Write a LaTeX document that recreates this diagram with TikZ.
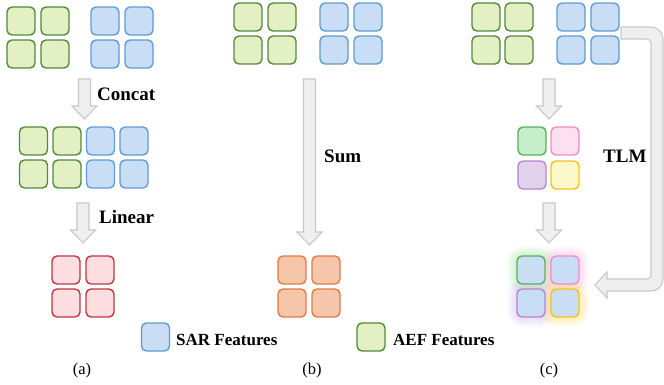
\documentclass[tikz,border=0pt]{standalone}
\usepackage{fontspec}
\setmainfont{Liberation Serif}
\definecolor{gfill}{HTML}{E2F0C4}\definecolor{gdraw}{HTML}{538A3A}
\definecolor{bfill}{HTML}{C9DDF5}\definecolor{bdraw}{HTML}{5F9BD6}
\definecolor{rfill}{HTML}{FDDEE1}\definecolor{rdraw}{HTML}{C23440}
\definecolor{ofill}{HTML}{F6C6AA}\definecolor{odraw}{HTML}{E17B45}
\definecolor{tgfill}{HTML}{C6EEC9}\definecolor{tgdraw}{HTML}{5DAE5D}
\definecolor{tpfill}{HTML}{FDE0F0}\definecolor{tpdraw}{HTML}{F08DC6}
\definecolor{tvfill}{HTML}{E3D2EE}\definecolor{tvdraw}{HTML}{B585D0}
\definecolor{tyfill}{HTML}{FCF8C9}\definecolor{tydraw}{HTML}{F7C21C}
\definecolor{afill}{HTML}{EFEFEF}\definecolor{adraw}{HTML}{C8C8C8}
\definecolor{glg}{HTML}{7FE07F}\definecolor{glp}{HTML}{FF9ED8}
\definecolor{glv}{HTML}{C9A0E6}\definecolor{gly}{HTML}{FFD23A}
\tikzset{
  sq/.style={draw, rounded corners=5pt, minimum size=28pt, inner sep=0pt, line width=1.4pt},
  gsq/.style={sq, fill=gfill, draw=gdraw},
  bsq/.style={sq, fill=bfill, draw=bdraw},
  rsq/.style={sq, fill=rfill, draw=rdraw},
  osq/.style={sq, fill=ofill, draw=odraw},
  arr/.style={fill=afill, draw=adraw, line width=1.1pt, line join=miter},
  lab/.style={font=\bfseries\fontsize{19}{19}\selectfont, anchor=base west, inner sep=0pt},
  leg/.style={font=\bfseries\fontsize{17}{17}\selectfont, anchor=base west, inner sep=0pt},
  captext/.style={font=\fontsize{16.5}{16.5}\selectfont, anchor=base, inner sep=0pt}
}
\newcommand{\downarr}[4]{% center x, top, head start, tip
  \draw[arr] ({#1-6},#2) -- ({#1+6},#2) -- ({#1+6},#3) -- ({#1+12.5},#3) -- (#1,#4) -- ({#1-12.5},#3) -- ({#1-6},#3) -- cycle;}
\newcommand{\glow}[3]{% x, y, color
  \foreach \k in {1,...,10}{
    \fill[#3, opacity=0.045, rounded corners={6pt+\k pt}] ({#1-14-\k},{#2-14-\k}) rectangle ({#1+14+\k},{#2+14+\k});}}
\begin{document}
\begin{tikzpicture}[x=1pt,y=-1pt]
\useasboundingbox (0,0) rectangle (664,384);
% (a)
\node[gsq] (a11) at (21,21) {}; \node[gsq] (a12) at (55,21) {};
\node[gsq] (a13) at (21,54) {}; \node[gsq] (a14) at (55,54) {};
\node[bsq] (a21) at (105,21) {}; \node[bsq] (a22) at (139,21) {};
\node[bsq] (a23) at (105,54) {}; \node[bsq] (a24) at (139,54) {};
\downarr{84.5}{79}{106}{119}
\node[lab] (tconcat) at (97,100) {Concat};
\node[gsq] (c1) at (33.5,141) {}; \node[gsq] (c2) at (67,141) {};
\node[bsq] (c3) at (100.5,141) {}; \node[bsq] (c4) at (134,141) {};
\node[gsq] (c5) at (33.5,174) {}; \node[gsq] (c6) at (67,174) {};
\node[bsq] (c7) at (100.5,174) {}; \node[bsq] (c8) at (134,174) {};
\downarr{83}{203}{230}{243}
\node[lab] (tlinear) at (99,223) {Linear};
\node[rsq] (r1) at (66,270) {}; \node[rsq] (r2) at (100,270) {};
\node[rsq] (r3) at (66,303) {}; \node[rsq] (r4) at (100,303) {};
\node[captext] (capa) at (82,374) {(a)};
% (b)
\node[gsq] (b11) at (248,17) {}; \node[gsq] (b12) at (282,17) {};
\node[gsq] (b13) at (248,50) {}; \node[gsq] (b14) at (282,50) {};
\node[bsq] (b21) at (334,17) {}; \node[bsq] (b22) at (368,17) {};
\node[bsq] (b23) at (334,50) {}; \node[bsq] (b24) at (368,50) {};
\downarr{309.5}{79}{232}{245}
\node[lab] (tsum) at (324,162) {Sum};
\node[osq] (o1) at (292,270) {}; \node[osq] (o2) at (326,270) {};
\node[osq] (o3) at (292,303) {}; \node[osq] (o4) at (326,303) {};
\node[captext] (capb) at (312,374) {(b)};
% (c)
\node[gsq] (d11) at (486,17) {}; \node[gsq] (d12) at (519,17) {};
\node[gsq] (d13) at (486,50) {}; \node[gsq] (d14) at (519,50) {};
\node[bsq] (d21) at (571,17) {}; \node[bsq] (d22) at (605,17) {};
\node[bsq] (d23) at (571,50) {}; \node[bsq] (d24) at (605,50) {};
\downarr{549}{79}{106}{119}
\node[sq, fill=tgfill, draw=tgdraw] (t1) at (532,141) {};
\node[sq, fill=tpfill, draw=tpdraw] (t2) at (565,141) {};
\node[sq, fill=tvfill, draw=tvdraw] (t3) at (532,175) {};
\node[sq, fill=tyfill, draw=tydraw] (t4) at (565,175) {};
\node[lab] (ttlm) at (603,162) {TLM};
\downarr{549}{203}{230}{243}
\glow{531}{270}{glg}\glow{565}{270}{glp}
\glow{531}{303}{glv}\glow{565}{303}{gly}
\node[sq, fill=bfill, draw=tgdraw] (f1) at (531,270) {};
\node[sq, fill=bfill, draw=tpdraw] (f2) at (565,270) {};
\node[sq, fill=bfill, draw=tvdraw] (f3) at (531,303) {};
\node[sq, fill=bfill, draw=tydraw] (f4) at (565,303) {};
% bent arrow
\draw[arr] (621,27) -- (651,27) arc[start angle=-90, end angle=0, radius=12] -- (663,279)
  arc[start angle=0, end angle=90, radius=12] -- (607,291) -- (607,298) -- (595,285) -- (607,272) -- (607,279)
  -- (647,279) arc[start angle=90, end angle=0, radius=4] -- (651,43) arc[start angle=0, end angle=-90, radius=4] -- (621,39) -- cycle;
\node[captext] (capc) at (549,374) {(c)};
% legend
\node[bsq] (lb) at (155.5,337) {};
\node[leg] (tsar) at (176,345) {SAR Features};
\node[gsq] (lg) at (371,337) {};
\node[leg] (taef) at (393,345) {AEF Features};
\end{tikzpicture}
\end{document}
